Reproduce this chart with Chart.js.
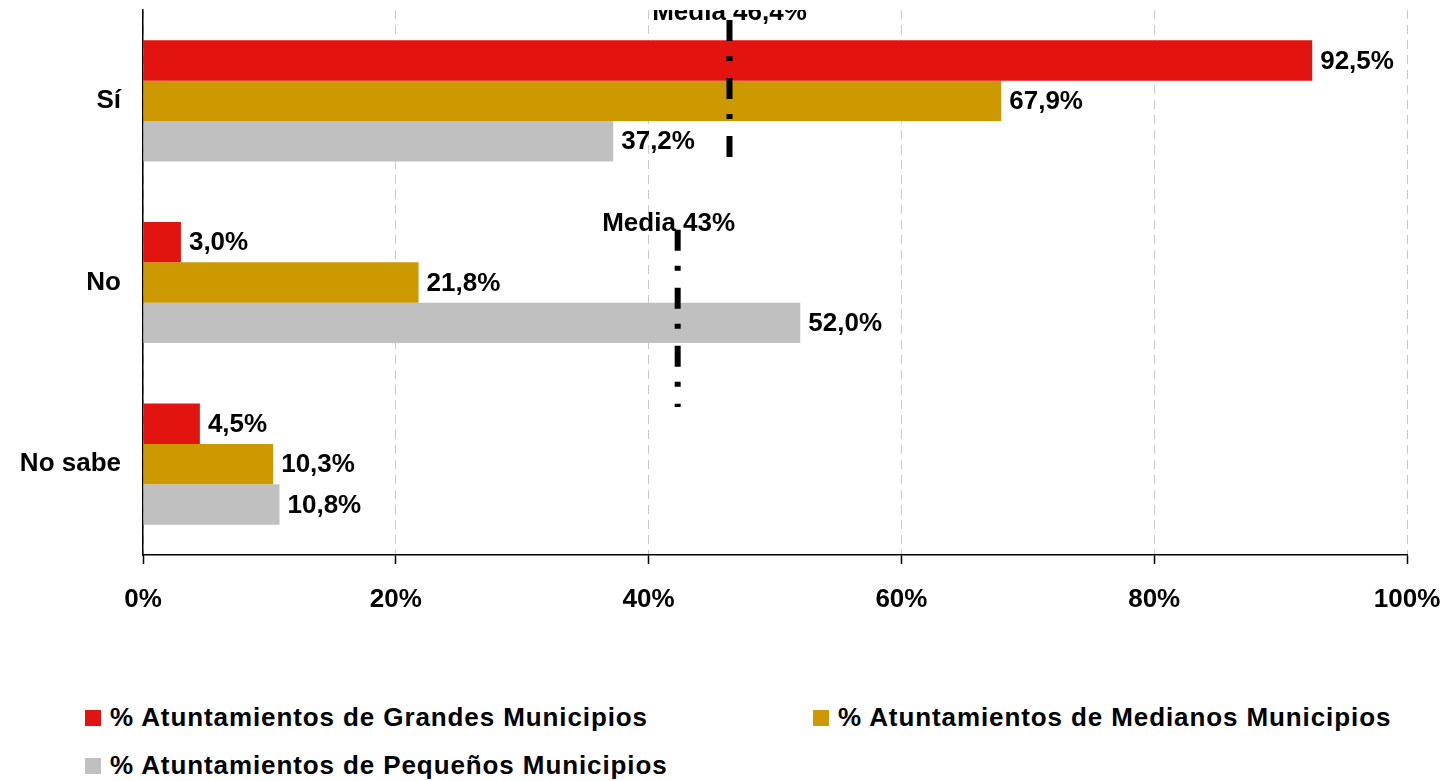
<!DOCTYPE html>
<html lang="es">
<head>
    <meta charset="UTF-8">
    <title>Respuestas por tamaño de municipio</title>
    <script src="https://cdn.jsdelivr.net/npm/chart.js"></script>
    <style>
        body {
            margin: 0;
            background: #fff;
            font-family: 'Liberation Sans', Arial, sans-serif;
            overflow: hidden;
        }
        .wrap {
            position: relative;
            width: 1449px;
            height: 781px;
            overflow: hidden;
        }
        .chart-box {
            position: absolute;
            left: 0;
            top: 0;
            width: 1449px;
            height: 660px;
        }
        .legend {
            position: absolute;
            left: 85px;
            top: 702px;
            width: 1360px;
        }
        .legend .item {
            position: absolute;
            display: flex;
            align-items: center;
            font-weight: bold;
            font-size: 26px;
            letter-spacing: 0.9px;
            color: #000;
            white-space: nowrap;
        }
        .legend .box {
            width: 16px;
            height: 16px;
            margin-right: 9px;
        }
    </style>
</head>
<body>
<div class="wrap">
    <div class="chart-box"><canvas id="chart"></canvas></div>
    <div class="legend" id="legend"></div>
</div>

<script>
    // categories and series
    const categories = ['Sí', 'No', 'No sabe'];
    const seriesNames = [
        '% Atuntamientos de Grandes Municipios',
        '% Atuntamientos de Medianos Municipios',
        '% Atuntamientos de Pequeños Municipios'
    ];
    const grandes = [92.5, 3.0, 4.5];
    const medianos = [67.9, 21.8, 10.3];
    const pequenos = [37.2, 52.0, 10.8];
    const seriesColors = ['#e3140f', '#cc9900', '#c0c0c0'];

    const meanValues = [46.4, 42.3];
    const meanLabels = ['Media 46,4%', 'Media 43%'];

    const xTicks = [0, 20, 40, 60, 80, 100];

    const fmt = v => v.toFixed(1).replace('.', ',') + '%';

    // value labels at bar ends
    const valueLabels = {
        id: 'valueLabels',
        afterDatasetsDraw(chart) {
            const ctx = chart.ctx;
            ctx.save();
            ctx.font = 'bold 26px "Liberation Sans", Arial, sans-serif';
            ctx.fillStyle = '#000';
            ctx.textAlign = 'left';
            ctx.textBaseline = 'middle';
            chart.data.datasets.forEach((ds, i) => {
                chart.getDatasetMeta(i).data.forEach((bar, j) => {
                    ctx.fillText(fmt(ds.data[j]), bar.x + 8, bar.y + 1);
                });
            });
            ctx.restore();
        }
    };

    // dash-dot "Media" lines
    const meanLines = {
        id: 'meanLines',
        afterDatasetsDraw(chart, args, opts) {
            const ctx = chart.ctx;
            const xs = chart.scales.x, ys = chart.scales.y;
            const area = chart.chartArea;
            meanValues.forEach((v, i) => {
                const x = xs.getPixelForValue(v);
                const y0 = ys.getPixelForValue(opts.from[i]);
                const y1 = ys.getPixelForValue(opts.to[i]);
                ctx.save();
                ctx.strokeStyle = '#000';
                ctx.lineWidth = 6;
                ctx.setLineDash([21, 15, 5, 17]);
                ctx.beginPath();
                ctx.moveTo(x, y0);
                ctx.lineTo(x, y1);
                ctx.stroke();
                ctx.restore();

                // the top label is cut by the plot edge in the original
                ctx.save();
                ctx.beginPath();
                ctx.rect(0, area.top, chart.width, chart.height);
                ctx.clip();
                ctx.font = 'bold 26px "Liberation Sans", Arial, sans-serif';
                ctx.fillStyle = '#000';
                ctx.textAlign = 'center';
                ctx.textBaseline = 'alphabetic';
                ctx.fillText(meanLabels[i], x + opts.labelDx[i], y0 + opts.labelDy[i]);
                ctx.restore();
            });
        }
    };

    new Chart(document.getElementById('chart'), {
        type: 'bar',
        data: {
            labels: categories,
            datasets: [
                { label: seriesNames[0], data: grandes, backgroundColor: seriesColors[0] },
                { label: seriesNames[1], data: medianos, backgroundColor: seriesColors[1] },
                { label: seriesNames[2], data: pequenos, backgroundColor: seriesColors[2] }
            ]
        },
        options: {
            indexAxis: 'y',
            responsive: true,
            maintainAspectRatio: false,
            animation: false,
            layout: { padding: { top: 10, right: 42, left: 0, bottom: 0 } },
            categoryPercentage: 0.667,
            barPercentage: 1.0,
            plugins: {
                legend: { display: false },
                tooltip: { enabled: false },
                meanLines: {
                    from: [-0.445, 0.71],
                    to: [0.325, 1.685],
                    labelDx: [0, -9],
                    labelDy: [0, 1]
                }
            },
            scales: {
                x: {
                    min: 0,
                    max: 100,
                    afterBuildTicks: s => { s.ticks = xTicks.map(v => ({ value: v })); },
                    afterFit: s => {
                        s.height = 105;
                        s.paddingLeft = 0;
                        s.paddingRight = 0;
                    },
                    grid: {
                        color: '#c8c8c8',
                        lineWidth: 1,
                        tickLength: 9,
                        tickColor: '#000',
                        tickWidth: 1.5
                    },
                    border: { display: true, color: '#000', width: 1.5, dash: [9, 6] },
                    ticks: {
                        padding: 20,
                        color: '#000',
                        font: { family: '"Liberation Sans", Arial, sans-serif', size: 26, weight: 'bold' },
                        callback: v => v + '%'
                    }
                },
                y: {
                    afterFit: s => {
                        s.width = 143;
                        s.paddingTop = 0;
                        s.paddingBottom = 0;
                    },
                    grid: { display: false },
                    border: { display: true, color: '#000', width: 1.5 },
                    ticks: {
                        padding: 14,
                        color: '#000',
                        font: { family: '"Liberation Sans", Arial, sans-serif', size: 26, weight: 'bold' }
                    }
                }
            }
        },
        plugins: [valueLabels, meanLines]
    });

    // legend, built from the series arrays
    const legendPos = [[0, 0], [728, 0], [0, 48]];
    const legend = document.getElementById('legend');
    seriesNames.forEach((name, i) => {
        const item = document.createElement('div');
        item.className = 'item';
        item.style.left = legendPos[i][0] + 'px';
        item.style.top = legendPos[i][1] + 'px';
        item.innerHTML = '<span class="box" style="background:' + seriesColors[i] + '"></span>' + name;
        legend.appendChild(item);
    });
</script>
</body>
</html>
